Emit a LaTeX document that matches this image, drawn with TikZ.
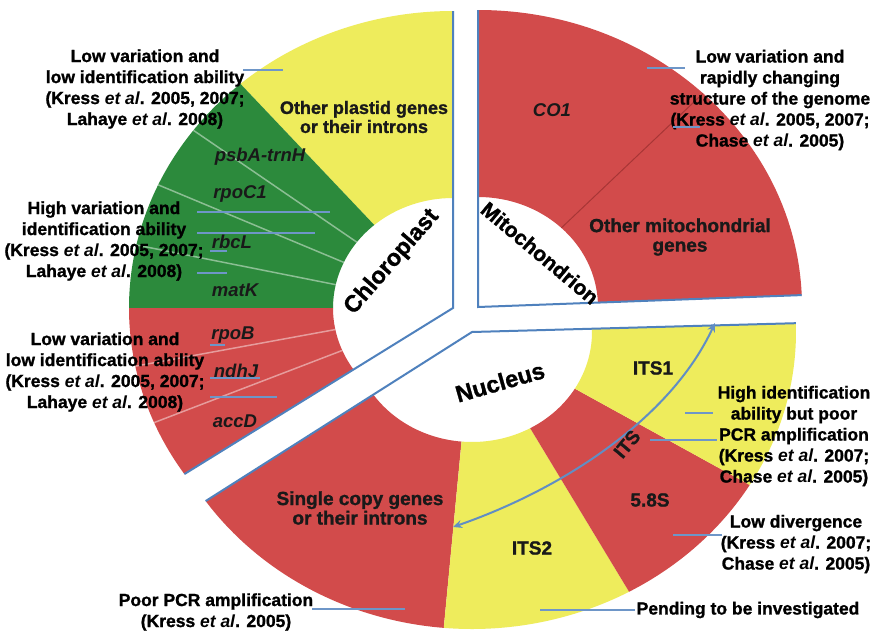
\documentclass[tikz,border=0pt]{standalone}
\usepackage{fontspec}
\setmainfont{Liberation Sans}[BoldFeatures={FakeBold=1.2}]
\usetikzlibrary{arrows.meta}
\definecolor{secred}{HTML}{D24B4B}
\definecolor{secyellow}{HTML}{EEEC5C}
\definecolor{secgreen}{HTML}{2C8A3C}
\definecolor{edgeblue}{HTML}{4F81BD}
\definecolor{leadblue}{HTML}{6E96C8}
\definecolor{darkred}{HTML}{A83636}
\newcommand\ringsec[3]{%
  \fill[#3] (#1:120 and 110) -- (#1:324 and 297)
    arc[start angle=#1, end angle=#2, x radius=324, y radius=297]
    -- (#2:120 and 110)
    arc[start angle=#2, end angle=#1, x radius=120, y radius=110] -- cycle;}
\newcommand\ringdiv[2]{\draw[#2] (#1:120 and 110) -- (#1:324 and 297);}
\tikzset{
  ann/.style={font=\bfseries\fontsize{17.5}{21}\selectfont, align=center, text=black, inner sep=0pt},
  lab/.style={font=\bfseries\fontsize{19}{19.5}\selectfont, align=center, text=black!90, inner sep=0pt},
  gene/.style={font=\bfseries\itshape\fontsize{18.5}{20}\selectfont, text=black!90, inner sep=0pt},
  org/.style={font=\bfseries\fontsize{23.5}{25}\selectfont, text=black, inner sep=0pt},
  lead/.style={draw=leadblue, line width=1.5pt},
  edgeline/.style={draw=edgeblue, line width=2pt},
  lightdiv/.style={draw=white, draw opacity=0.45, line width=1.5pt},
  darkdiv/.style={draw=darkred, line width=1pt},
  itsarrow/.style={draw=edgeblue!90!white, line width=2pt, {Stealth[length=9pt,width=8pt]}-{Stealth[length=9pt,width=8pt]}},
}
\begin{document}
\begin{tikzpicture}[x=1pt,y=1pt]
\fill[white] (0,0) rectangle (873,-632);
\useasboundingbox (0,0) rectangle (873,-632);

% ---------- Chloroplast ----------
\begin{scope}[shift={(453,-308)}]
  \ringsec{90}{131}{secyellow}
  \ringsec{131}{180}{secgreen}
  \ringsec{180}{214}{secred}
  \ringdiv{143.25}{lightdiv}
  \ringdiv{155.5}{lightdiv}
  \ringdiv{167.75}{lightdiv}
  \ringdiv{191.3}{lightdiv}
  \ringdiv{202.7}{lightdiv}
  \draw[edgeline] (90:324 and 297) -- (0,0) -- (214:324 and 297);
\end{scope}

% ---------- Mitochondrion ----------
\begin{scope}[shift={(478,-307)}]
  \ringsec{2.3}{90}{secred}
  \ringdiv{46}{darkdiv}
  \draw[edgeline] (90:324 and 297) -- (0,0) -- (2.3:324 and 297);
\end{scope}

% ---------- Nucleus ----------
\begin{scope}[shift={(472,-332)}]
  \ringsec{214.7}{265}{secred}
  \ringsec{265}{299}{secyellow}
  \ringsec{299}{329}{secred}
  \ringsec{329}{361.7}{secyellow}
  \draw[edgeline] (214.7:324 and 297) -- (0,0) -- (361.7:324 and 297);
\end{scope}

% ---------- sector labels ----------
\node[lab, font=\bfseries\fontsize{18}{19}\selectfont] (plastid) at (364,-117) {Other plastid genes\\or their introns};
\node[gene] (psba) at (260,-157) {psbA-trnH};
\node[gene] (rpoc) at (240,-194) {rpoC1};
\node[gene] (rbcl) at (232,-242) {rbcL};
\node[gene] (matk) at (235,-290) {matK};
\node[gene] (rpob) at (233,-335) {rpoB};
\node[gene] (ndhj) at (236,-371) {ndhJ};
\node[gene] (accd) at (235,-421) {accD};
\node[gene] (co1) at (552,-110) {CO1};
\node[lab] (othermito) at (680,-237) {Other mitochondrial\\genes};
\node[lab] (its1) at (653,-368) {ITS1};
\node[lab] (its2) at (532,-548) {ITS2};
\node[lab] (s58) at (650,-500) {5.8S};
\node[lab] (single) at (360,-508) {Single copy genes\\or their introns};

\node[org, rotate=49] (chloro) at (392,-262) {Chloroplast};
\node[org, font=\bfseries\fontsize{21}{22}\selectfont, rotate=-40] (mito) at (540,-253) {Mitochondrion};
\node[org, rotate=16] (nucleus) at (500,-382) {Nucleus};

% ---------- ITS arrow ----------
\coordinate (itsL) at (453,-527);
\coordinate (itsU) at (715,-323);
\draw[itsarrow] (itsL) .. controls (560,-490) and (670,-420) .. (itsU);
\node[lab, rotate=50] (its) at (627,-444) {ITS};

% ---------- annotations ----------
\node[ann] (a1) at (145,-89) {Low variation and\\low identification ability\\(Kress \textit{et al}. 2005, 2007;\\Lahaye \textit{et al}. 2008)};
\node[ann] (a2) at (104,-241) {High variation and\\identification ability\\(Kress \textit{et al}. 2005, 2007;\\Lahaye \textit{et al}. 2008)};
\node[ann] (a3) at (105,-372) {Low variation and\\low identification ability\\(Kress \textit{et al}. 2005, 2007;\\Lahaye \textit{et al}. 2008)};
\node[ann] (a4) at (770,-100) {Low variation and\\rapidly changing\\structure of the genome\\(Kress \textit{et al}. 2005, 2007;\\Chase \textit{et al}. 2005)};
\node[ann] (a5) at (794,-436) {High identification\\ability but poor\\PCR amplification\\(Kress \textit{et al}. 2007;\\Chase \textit{et al}. 2005)};
\node[ann] (a6) at (796,-544) {Low divergence\\(Kress \textit{et al}. 2007;\\Chase \textit{et al}. 2005)};
\node[ann] (a7) at (748,-610) {Pending to be investigated};
\node[ann] (a8) at (216,-612) {Poor PCR amplification\\(Kress \textit{et al}. 2005)};

% ---------- leader lines ----------
\coordinate (l1a) at (243,-70);  \coordinate (l1b) at (283,-70);
\coordinate (l2a) at (197,-212); \coordinate (l2b) at (330,-212);
\coordinate (l2c) at (197,-233); \coordinate (l2d) at (315,-233);
\coordinate (l2e) at (210,-251); \coordinate (l2f) at (227,-251);
\coordinate (l2g) at (197,-273); \coordinate (l2h) at (227,-273);
\coordinate (l3a) at (210,-345); \coordinate (l3b) at (225,-345);
\coordinate (l3c) at (210,-378); \coordinate (l3d) at (260,-378);
\coordinate (l3e) at (210,-397); \coordinate (l3f) at (277,-397);
\coordinate (l4a) at (647,-68);  \coordinate (l4b) at (685,-68);
\coordinate (l4c) at (673,-127); \coordinate (l4d) at (700,-127);
\coordinate (l5a) at (685,-413); \coordinate (l5b) at (713,-413);
\coordinate (l5c) at (650,-440); \coordinate (l5d) at (717,-440);
\coordinate (l6a) at (673,-535); \coordinate (l6b) at (722,-535);
\coordinate (l7a) at (540,-610); \coordinate (l7b) at (635,-610);
\coordinate (l8a) at (312,-609); \coordinate (l8b) at (405,-609);
\foreach \p/\q in {l1a/l1b,l2a/l2b,l2c/l2d,l2e/l2f,l2g/l2h,l3a/l3b,l3c/l3d,l3e/l3f,l4a/l4b,l4c/l4d,l5a/l5b,l5c/l5d,l6a/l6b,l7a/l7b,l8a/l8b}
  \draw[lead] (\p) -- (\q);
\end{tikzpicture}
\end{document}
